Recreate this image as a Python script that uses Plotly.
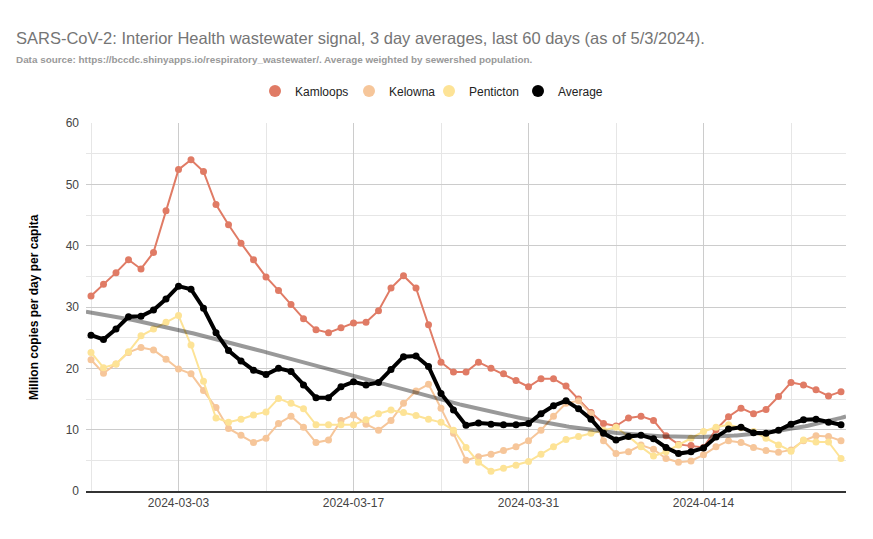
import numpy as np
import pandas as pd
import plotly.graph_objects as go

# ---- data ----
dates = pd.date_range("2024-02-25", "2024-04-25", freq="D")

kamloops = [31.8, 33.7, 35.6, 37.7, 36.2, 38.9, 45.7, 52.4, 54.0, 52.1,
            46.7, 43.4, 40.4, 37.7, 34.9, 32.7, 30.4, 28.1, 26.3, 25.8,
            26.6, 27.4, 27.5, 29.4, 33.1, 35.1, 33.1, 27.1, 21.0, 19.4,
            19.4, 21.0, 20.0, 19.1, 18.0, 17.0, 18.3, 18.3, 17.1, 15.0,
            12.8, 11.0, 10.6, 11.9, 12.2, 11.5, 9.0, 7.6, 7.4, 7.1,
            10.0, 12.1, 13.5, 12.6, 13.3, 15.4, 17.7, 17.3, 16.5, 15.5,
            16.2]

kelowna = [21.4, 19.2, 20.7, 22.6, 23.4, 23.0, 21.5, 19.9, 19.1, 16.4,
           13.6, 10.2, 9.1, 7.9, 8.6, 11.0, 12.2, 10.4, 7.9, 8.3,
           11.5, 12.4, 10.9, 9.9, 11.5, 14.3, 16.3, 17.4, 13.5, 9.4,
           5.0, 5.6, 6.0, 6.6, 7.2, 8.2, 9.9, 12.2, 14.3, 14.7,
           12.6, 8.2, 6.1, 6.4, 7.5, 6.8, 5.3, 4.7, 4.9, 5.9,
           7.2, 8.2, 7.9, 7.1, 6.6, 6.3, 6.7, 8.2, 9.0, 8.9,
           8.2]

penticton = [22.6, 20.1, 20.7, 22.7, 25.3, 26.4, 27.5, 28.6, 23.8, 17.9,
             11.9, 11.2, 11.7, 12.4, 12.9, 15.1, 14.3, 13.4, 10.8, 10.8,
             10.8, 10.8, 11.6, 12.6, 13.2, 12.8, 12.3, 11.7, 11.2, 9.9,
             7.1, 4.7, 3.2, 3.7, 4.2, 4.8, 6.0, 7.2, 8.4, 8.9,
             9.4, 9.9, 10.4, 8.9, 7.2, 5.7, 6.4, 7.5, 8.6, 9.7,
             10.4, 10.8, 10.3, 9.7, 8.6, 7.5, 6.5, 8.3, 8.0, 8.0,
             5.3]

average = [25.4, 24.7, 26.4, 28.4, 28.5, 29.5, 31.3, 33.4, 32.9, 29.8,
           25.8, 22.9, 21.2, 19.7, 19.0, 20.0, 19.5, 17.3, 15.2, 15.2,
           17.0, 17.8, 17.3, 17.7, 19.8, 21.9, 22.0, 20.3, 15.9, 13.2,
           10.7, 11.1, 10.9, 10.8, 10.8, 11.0, 12.6, 13.9, 14.7, 13.4,
           11.7, 9.4, 8.3, 8.9, 9.1, 8.5, 7.1, 6.1, 6.4, 7.0,
           8.8, 10.1, 10.4, 9.5, 9.4, 9.9, 10.9, 11.6, 11.7, 11.2,
           10.8]

series_names = ["Kamloops", "Kelowna", "Penticton", "Average"]
series_colors = ["#e07b65", "#f6c69a", "#fde396", "#000000"]

# ---- polynomial trendline of the average ----
day_idx = np.arange(len(dates))
coef = np.polyfit(day_idx, np.array(average), 3)
pad = 0.4
t_fine = np.linspace(-pad, len(dates) - 1 + pad, 300)
trend_vals = np.polyval(coef, t_fine)
trend_dates = dates[0] + pd.to_timedelta(t_fine, unit="D")

FONT = "Liberation Sans, Arial, sans-serif"
fig = go.Figure()

for name, vals, col in zip(series_names[:3], [kamloops, kelowna, penticton], series_colors[:3]):
    fig.add_trace(go.Scatter(x=dates, y=vals, mode="lines+markers", name=name,
                             line=dict(color=col, width=2),
                             marker=dict(color=col, size=7),
                             showlegend=False))

fig.add_trace(go.Scatter(x=trend_dates, y=trend_vals, mode="lines",
                         line=dict(color="rgba(0,0,0,0.4)", width=4),
                         showlegend=False, hoverinfo="skip"))

fig.add_trace(go.Scatter(x=dates, y=average, mode="lines+markers", name="Average",
                         line=dict(color="#000000", width=4),
                         marker=dict(color="#000000", size=7),
                         showlegend=False))

# legend entries (circle symbols only), one small legend per entry for exact spacing
legend_ids = ["legend", "legend2", "legend3", "legend4"]
for name, col, lid in zip(series_names, series_colors, legend_ids):
    fig.add_trace(go.Scatter(x=[None], y=[None], mode="markers", name=name, legend=lid,
                             marker=dict(color=col, size=12, symbol="circle")))

x0 = dates[0] - pd.Timedelta(days=pad)
x1 = dates[-1] + pd.Timedelta(days=pad)

# the page body adds an 8px offset; figure is sized to fill the rest of the window
OFF = 8
W, H = 873 - OFF, 539 - OFF

legend_circle_px = [275, 369, 449, 538]
legend_common = dict(orientation="h", xanchor="left", y=(491 - 91) / 368, yanchor="middle",
                     font=dict(family=FONT, size=12, color="#222222"),
                     itemwidth=30, bgcolor="rgba(0,0,0,0)")
legends = {}
for lid, cx in zip(legend_ids, legend_circle_px):
    legends[lid] = dict(legend_common, x=(cx - 20 - 86) / 760)

fig.update_layout(
    width=W, height=H,
    margin=dict(l=86 - OFF, r=27, t=123 - OFF, b=48, autoexpand=False),
    paper_bgcolor="white", plot_bgcolor="white",
    font=dict(family=FONT, size=12, color="#444444"),
    title=dict(text="SARS-CoV-2: Interior Health wastewater signal, 3 day averages, last 60 days (as of 5/3/2024).",
               x=(16 - OFF) / W, xanchor="left", xref="container",
               y=1 - (38 - OFF) / H, yanchor="middle", yref="container",
               font=dict(family=FONT, size=16.5, color="#757575")),
    showlegend=True,
    annotations=[
        dict(text="Data source: https://bccdc.shinyapps.io/respiratory_wastewater/. Average weighted by sewershed population.",
             xref="paper", yref="paper", x=(14 - 86) / 760, y=(491 - 60) / 368,
             xanchor="left", yanchor="middle", showarrow=False,
             font=dict(family=FONT, size=9.9, color="#999999", weight="bold")),
        dict(text="<b>Million copies per day per capita</b>",
             xref="paper", yref="paper", x=(34 - 86) / 760, y=0.5,
             xanchor="center", yanchor="middle", textangle=-90, showarrow=False,
             font=dict(family=FONT, size=12, color="#000000")),
    ],
    **legends,
)

fig.update_xaxes(
    type="date", range=[x0, x1], automargin=False,
    tick0="2024-03-03", dtick=14 * 86400000, tickformat="%Y-%m-%d",
    showgrid=True, gridcolor="#cccccc", gridwidth=1,
    minor=dict(dtick=7 * 86400000, tick0="2024-02-25", showgrid=True, gridcolor="#e6e6e6", gridwidth=1),
    showline=True, linecolor="#333333", linewidth=1.5,
    ticks="", zeroline=False,
    tickfont=dict(family=FONT, size=12, color="#444444"),
)
fig.update_yaxes(
    range=[0, 60], dtick=10, tick0=0, automargin=False,
    showgrid=True, gridcolor="#cccccc", gridwidth=1,
    minor=dict(dtick=5, showgrid=True, gridcolor="#e6e6e6", gridwidth=1),
    showline=False, zeroline=False, ticks="",
    ticklabelstandoff=6,
    tickfont=dict(family=FONT, size=12, color="#444444"),
)

fig.write_html("out.html")
